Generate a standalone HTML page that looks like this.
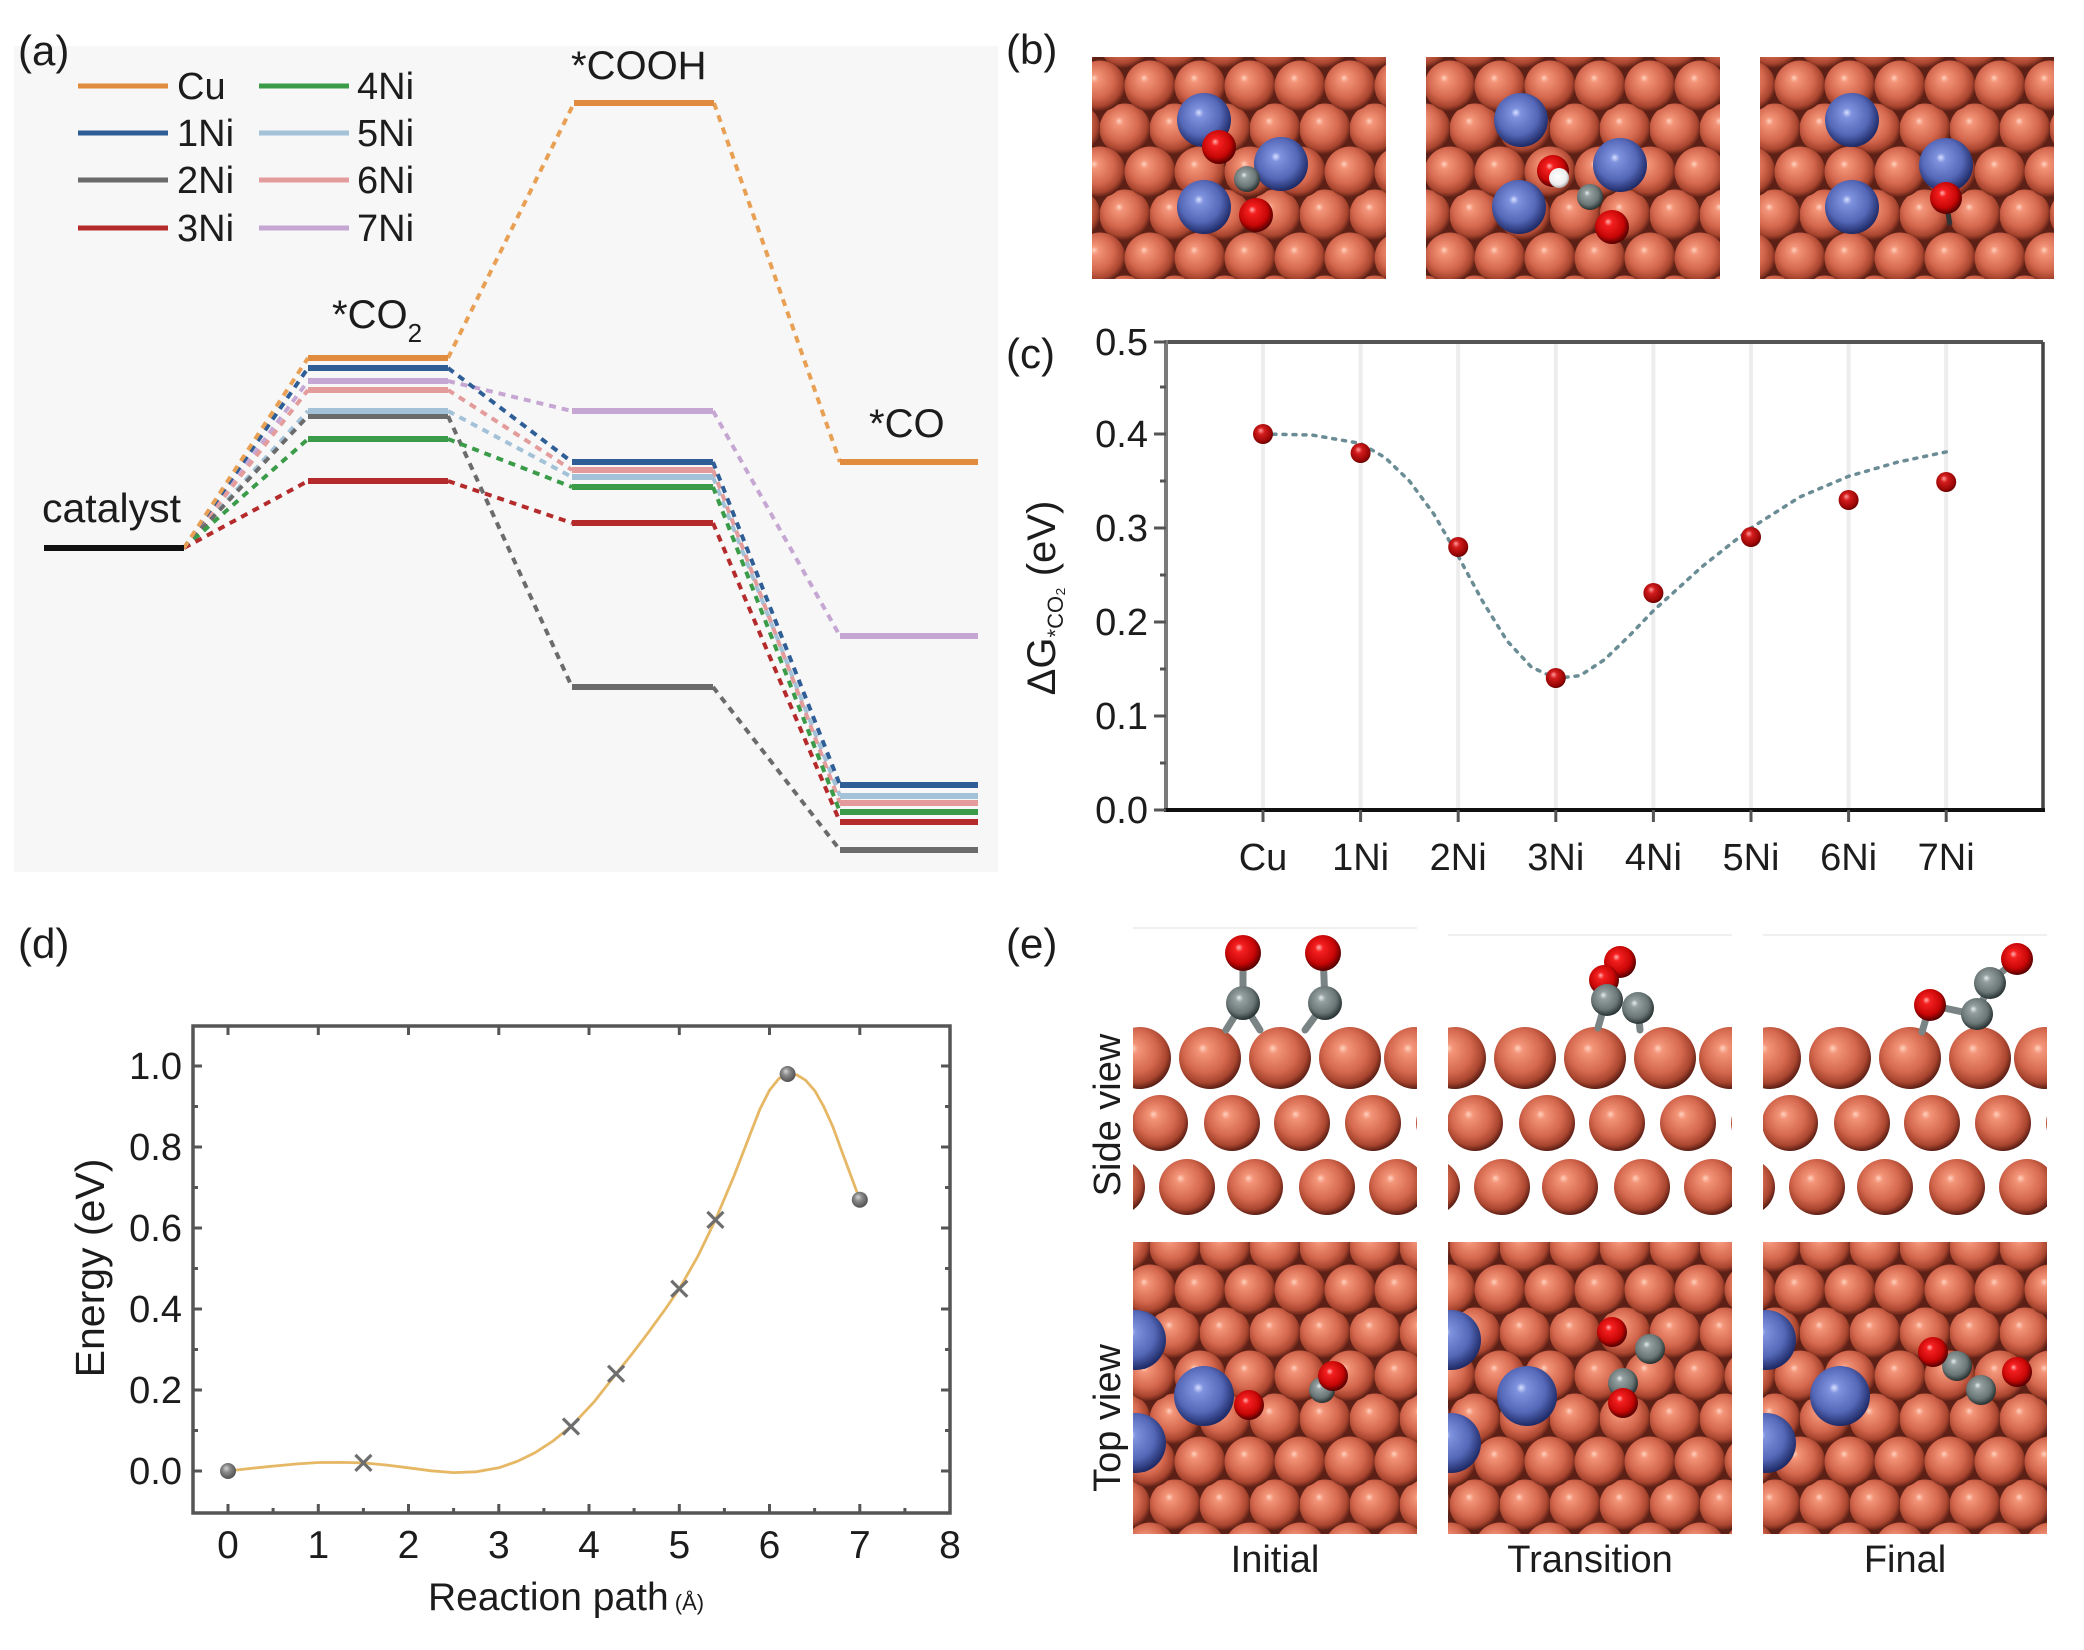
<!DOCTYPE html>
<html><head><meta charset="utf-8">
<style>
html,body{margin:0;padding:0;background:#fff}
svg{display:block}
text{font-family:"Liberation Sans",Arial,sans-serif;fill:#1c1c1c}
</style></head>
<body>
<svg width="2084" height="1650" viewBox="0 0 2084 1650" xmlns="http://www.w3.org/2000/svg">
<defs>
<radialGradient id="gCu" cx="0.45" cy="0.42" r="0.58" fx="0.38" fy="0.34">
<stop offset="0" stop-color="#ffd2bf"/><stop offset="0.14" stop-color="#f39478"/><stop offset="0.6" stop-color="#d4684e"/><stop offset="0.85" stop-color="#a9452f"/><stop offset="1" stop-color="#5a1e14"/></radialGradient>
<radialGradient id="gNi" cx="0.45" cy="0.42" r="0.58" fx="0.4" fy="0.36">
<stop offset="0" stop-color="#d8e0ff"/><stop offset="0.15" stop-color="#7f92de"/><stop offset="0.65" stop-color="#5568b8"/><stop offset="1" stop-color="#1e2a66"/></radialGradient>
<radialGradient id="gO" cx="0.45" cy="0.42" r="0.58" fx="0.38" fy="0.34">
<stop offset="0" stop-color="#ffb0b0"/><stop offset="0.2" stop-color="#f52020"/><stop offset="0.7" stop-color="#c80606"/><stop offset="1" stop-color="#520000"/></radialGradient>
<radialGradient id="gC" cx="0.45" cy="0.42" r="0.58" fx="0.38" fy="0.34">
<stop offset="0" stop-color="#e8eeee"/><stop offset="0.2" stop-color="#95a0a0"/><stop offset="0.7" stop-color="#6a7676"/><stop offset="1" stop-color="#263030"/></radialGradient>
<radialGradient id="gH" cx="0.45" cy="0.42" r="0.6">
<stop offset="0" stop-color="#ffffff"/><stop offset="0.7" stop-color="#eeeeee"/><stop offset="1" stop-color="#a0a0a0"/></radialGradient>
<radialGradient id="gR" cx="0.45" cy="0.42" r="0.6" fx="0.38" fy="0.32">
<stop offset="0" stop-color="#ff9c9c"/><stop offset="0.3" stop-color="#d41c1c"/><stop offset="0.8" stop-color="#9a0606"/><stop offset="1" stop-color="#600000"/></radialGradient>
<radialGradient id="gG" cx="0.45" cy="0.42" r="0.6" fx="0.38" fy="0.32">
<stop offset="0" stop-color="#d4d4d4"/><stop offset="0.4" stop-color="#8a8a8a"/><stop offset="1" stop-color="#4e4e4e"/></radialGradient>
<pattern id="lat" width="50" height="86" patternUnits="userSpaceOnUse">
<rect width="50" height="86" fill="#5c2016"/>
<circle cx="25" cy="43" r="25.5" fill="url(#gCu)"/>
<circle cx="0" cy="0" r="25.5" fill="url(#gCu)"/>
<circle cx="50" cy="0" r="25.5" fill="url(#gCu)"/>
<circle cx="0" cy="86" r="25.5" fill="url(#gCu)"/>
<circle cx="50" cy="86" r="25.5" fill="url(#gCu)"/>
</pattern>
<clipPath id="cs"><rect x="0" y="0" width="284" height="190"/></clipPath>
<g id="slab" clip-path="url(#cs)">
<circle cx="7" cy="33" r="31" fill="url(#gCu)"/><circle cx="77" cy="33" r="31" fill="url(#gCu)"/><circle cx="147" cy="33" r="31" fill="url(#gCu)"/><circle cx="217" cy="33" r="31" fill="url(#gCu)"/><circle cx="282" cy="33" r="31" fill="url(#gCu)"/>
<circle cx="27" cy="98" r="28" fill="url(#gCu)"/><circle cx="99" cy="98" r="28" fill="url(#gCu)"/><circle cx="169" cy="98" r="28" fill="url(#gCu)"/><circle cx="240" cy="98" r="28" fill="url(#gCu)"/><circle cx="311" cy="98" r="28" fill="url(#gCu)"/>
<circle cx="-16" cy="162" r="28" fill="url(#gCu)"/><circle cx="54" cy="162" r="28" fill="url(#gCu)"/><circle cx="122" cy="162" r="28" fill="url(#gCu)"/><circle cx="194" cy="162" r="28" fill="url(#gCu)"/><circle cx="264" cy="162" r="28" fill="url(#gCu)"/>
</g>
<clipPath id="cb1"><rect x="1092" y="57" width="294" height="222"/></clipPath>
<clipPath id="cb2"><rect x="1426" y="57" width="294" height="222"/></clipPath>
<clipPath id="cb3"><rect x="1760" y="57" width="294" height="222"/></clipPath>
<clipPath id="ct1"><rect x="1133" y="1242" width="284" height="292"/></clipPath>
<clipPath id="ct2"><rect x="1448" y="1242" width="284" height="292"/></clipPath>
<clipPath id="ct3"><rect x="1763" y="1242" width="284" height="292"/></clipPath>
</defs>

<!-- ================= Panel (a) ================= -->
<rect x="14" y="46" width="984" height="826" fill="#f7f7f7"/>
<text x="18" y="65" font-size="42">(a)</text>

<g stroke-width="5">
<line x1="78" y1="86" x2="168" y2="86" stroke="#e08b3d"/>
<line x1="78" y1="133" x2="168" y2="133" stroke="#2f5e96"/>
<line x1="78" y1="180" x2="168" y2="180" stroke="#6b6b6b"/>
<line x1="78" y1="228" x2="168" y2="228" stroke="#b52b2b"/>
<line x1="259" y1="86" x2="349" y2="86" stroke="#3a9b48"/>
<line x1="259" y1="133" x2="349" y2="133" stroke="#a3c2d8"/>
<line x1="259" y1="180" x2="349" y2="180" stroke="#e39b9b"/>
<line x1="259" y1="228" x2="349" y2="228" stroke="#c6a6d2"/>
</g>
<g font-size="38">
<text x="177" y="99">Cu</text>
<text x="177" y="146">1Ni</text>
<text x="177" y="193">2Ni</text>
<text x="177" y="241">3Ni</text>
<text x="357" y="99">4Ni</text>
<text x="357" y="146">5Ni</text>
<text x="357" y="193">6Ni</text>
<text x="357" y="241">7Ni</text>
</g>

<text x="42" y="522" font-size="41">catalyst</text>
<text x="332" y="328" font-size="40">*CO<tspan font-size="26" dy="14">2</tspan></text>
<text x="571" y="79" font-size="40">*COOH</text>
<text x="869" y="437" font-size="40">*CO</text>

<g fill="none" stroke-width="4" stroke-dasharray="7 6">
<g stroke="#c6a6d2"><path d="M184 548L308 381"/><path d="M448 381L572 411"/><path d="M713 411L840 636"/></g>
<g stroke="#a3c2d8"><path d="M184 548L308 411"/><path d="M448 411L572 477"/><path d="M713 477L840 796"/></g>
<g stroke="#e39b9b"><path d="M184 548L308 390"/><path d="M448 390L572 470"/><path d="M713 470L840 803"/></g>
<g stroke="#6b6b6b"><path d="M184 548L308 416"/><path d="M448 416L572 687"/><path d="M713 687L840 850"/></g>
<g stroke="#3a9b48"><path d="M184 548L308 439"/><path d="M448 439L572 487"/><path d="M713 487L840 812"/></g>
<g stroke="#b52b2b"><path d="M184 548L308 481"/><path d="M448 481L572 523"/><path d="M713 523L840 822"/></g>
<g stroke="#2f5e96"><path d="M184 548L308 368"/><path d="M448 368L572 462"/><path d="M713 462L840 785"/></g>
<g stroke="#e8a055"><path d="M184 548L308 358"/><path d="M448 358L574 103"/><path d="M714 103L840 462"/></g>
</g>

<g stroke-width="6">
<line x1="44" y1="548" x2="184" y2="548" stroke="#111"/>
<line x1="308" y1="416" x2="448" y2="416" stroke="#6b6b6b"/>
<line x1="308" y1="411" x2="448" y2="411" stroke="#a3c2d8"/>
<line x1="308" y1="390" x2="448" y2="390" stroke="#e39b9b"/>
<line x1="308" y1="381" x2="448" y2="381" stroke="#c6a6d2"/>
<line x1="308" y1="439" x2="448" y2="439" stroke="#3a9b48"/>
<line x1="308" y1="481" x2="448" y2="481" stroke="#b52b2b"/>
<line x1="308" y1="368" x2="448" y2="368" stroke="#2f5e96"/>
<line x1="308" y1="358" x2="448" y2="358" stroke="#e08b3d"/>
<line x1="574" y1="103" x2="714" y2="103" stroke="#e08b3d"/>
<line x1="572" y1="411" x2="713" y2="411" stroke="#c6a6d2"/>
<line x1="572" y1="477" x2="713" y2="477" stroke="#a3c2d8"/>
<line x1="572" y1="470" x2="713" y2="470" stroke="#e39b9b"/>
<line x1="572" y1="462" x2="713" y2="462" stroke="#2f5e96"/>
<line x1="572" y1="487" x2="713" y2="487" stroke="#3a9b48"/>
<line x1="572" y1="523" x2="713" y2="523" stroke="#b52b2b"/>
<line x1="572" y1="687" x2="713" y2="687" stroke="#6b6b6b"/>
<line x1="840" y1="462" x2="978" y2="462" stroke="#e08b3d"/>
<line x1="840" y1="636" x2="978" y2="636" stroke="#c6a6d2"/>
<line x1="840" y1="796" x2="978" y2="796" stroke="#a3c2d8"/>
<line x1="840" y1="803" x2="978" y2="803" stroke="#e39b9b"/>
<line x1="840" y1="785" x2="978" y2="785" stroke="#2f5e96"/>
<line x1="840" y1="812" x2="978" y2="812" stroke="#3a9b48"/>
<line x1="840" y1="822" x2="978" y2="822" stroke="#b52b2b"/>
<line x1="840" y1="850" x2="978" y2="850" stroke="#6b6b6b"/>
</g>

<!-- ================= Panel (b) ================= -->
<text x="1006" y="64" font-size="42">(b)</text>
<rect x="1092" y="57" width="294" height="222" fill="url(#lat)"/>
<rect x="1426" y="57" width="294" height="222" fill="url(#lat)"/>
<rect x="1760" y="57" width="294" height="222" fill="url(#lat)"/>
<g clip-path="url(#cb1)">
<circle cx="1204" cy="120" r="27" fill="url(#gNi)"/>
<circle cx="1281" cy="164" r="27" fill="url(#gNi)"/>
<circle cx="1204" cy="207" r="27" fill="url(#gNi)"/>
<circle cx="1219" cy="147" r="17" fill="url(#gO)"/>
<circle cx="1247" cy="179" r="13" fill="url(#gC)"/>
<circle cx="1256" cy="215" r="17" fill="url(#gO)"/>
</g>
<g clip-path="url(#cb2)">
<circle cx="1521" cy="120" r="27" fill="url(#gNi)"/>
<circle cx="1620" cy="165" r="27" fill="url(#gNi)"/>
<circle cx="1519" cy="207" r="27" fill="url(#gNi)"/>
<circle cx="1553" cy="171" r="16" fill="url(#gO)"/>
<circle cx="1559" cy="178" r="10" fill="url(#gH)"/>
<circle cx="1590" cy="197" r="13" fill="url(#gC)"/>
<circle cx="1612" cy="227" r="17" fill="url(#gO)"/>
</g>
<g clip-path="url(#cb3)">
<circle cx="1852" cy="120" r="27" fill="url(#gNi)"/>
<circle cx="1946" cy="165" r="27" fill="url(#gNi)"/>
<circle cx="1852" cy="207" r="27" fill="url(#gNi)"/>
<line x1="1946" y1="200" x2="1950" y2="225" stroke="#333" stroke-width="5"/>
<circle cx="1946" cy="198" r="16" fill="url(#gO)"/>
</g>

<!-- ================= Panel (c) ================= -->
<text x="1006" y="368" font-size="42">(c)</text>
<g stroke="#ededed" stroke-width="4">
<line x1="1263" y1="343" x2="1263" y2="808"/><line x1="1360.6" y1="343" x2="1360.6" y2="808"/>
<line x1="1458.2" y1="343" x2="1458.2" y2="808"/><line x1="1555.8" y1="343" x2="1555.8" y2="808"/>
<line x1="1653.4" y1="343" x2="1653.4" y2="808"/><line x1="1751" y1="343" x2="1751" y2="808"/>
<line x1="1848.6" y1="343" x2="1848.6" y2="808"/><line x1="1946.2" y1="343" x2="1946.2" y2="808"/>
</g>
<line x1="1166" y1="342" x2="2043" y2="342" stroke="#555" stroke-width="4"/>
<line x1="2043" y1="342" x2="2043" y2="810" stroke="#444" stroke-width="3.5"/>
<line x1="1166" y1="340" x2="1166" y2="812" stroke="#7a7a7a" stroke-width="4"/>
<line x1="1164" y1="810" x2="2045" y2="810" stroke="#111" stroke-width="4"/>
<g stroke="#555" stroke-width="3">
<line x1="1154" y1="810" x2="1166" y2="810"/><line x1="1154" y1="716" x2="1166" y2="716"/>
<line x1="1154" y1="622" x2="1166" y2="622"/><line x1="1154" y1="528" x2="1166" y2="528"/>
<line x1="1154" y1="434" x2="1166" y2="434"/><line x1="1154" y1="342" x2="1166" y2="342"/>
<line x1="1160" y1="763" x2="1166" y2="763"/><line x1="1160" y1="669" x2="1166" y2="669"/>
<line x1="1160" y1="575" x2="1166" y2="575"/><line x1="1160" y1="481" x2="1166" y2="481"/>
<line x1="1160" y1="387" x2="1166" y2="387"/>
<line x1="1263" y1="810" x2="1263" y2="822"/><line x1="1360.6" y1="810" x2="1360.6" y2="822"/>
<line x1="1458.2" y1="810" x2="1458.2" y2="822"/><line x1="1555.8" y1="810" x2="1555.8" y2="822"/>
<line x1="1653.4" y1="810" x2="1653.4" y2="822"/><line x1="1751" y1="810" x2="1751" y2="822"/>
<line x1="1848.6" y1="810" x2="1848.6" y2="822"/><line x1="1946.2" y1="810" x2="1946.2" y2="822"/>
</g>
<g font-size="38" text-anchor="end">
<text x="1148" y="823">0.0</text><text x="1148" y="729">0.1</text><text x="1148" y="635">0.2</text>
<text x="1148" y="541">0.3</text><text x="1148" y="447">0.4</text><text x="1148" y="355">0.5</text>
</g>
<g font-size="38" text-anchor="middle">
<text x="1263" y="870">Cu</text><text x="1360.6" y="870">1Ni</text><text x="1458.2" y="870">2Ni</text>
<text x="1555.8" y="870">3Ni</text><text x="1653.4" y="870">4Ni</text><text x="1751" y="870">5Ni</text>
<text x="1848.6" y="870">6Ni</text><text x="1946.2" y="870">7Ni</text>
</g>
<text transform="translate(1055,598) rotate(-90)" text-anchor="middle" font-size="40">ΔG<tspan font-size="22" dy="8">*CO₂</tspan><tspan dy="-8"> (eV)</tspan></text>
<polyline fill="none" stroke="#6a8c94" stroke-width="3.5" stroke-dasharray="3 7" stroke-linecap="round"
points="1263,434 1311.8,435 1360.6,443.4 1385,457.5 1409.4,481 1433.8,514 1458.2,556.2 1482.6,601.3 1507,640.8 1531.4,667.1 1555.8,678.4 1580.2,675.6 1604.6,659.6 1629,636.1 1653.4,610.7 1702.2,566.5 1751,528 1799.8,497 1848.6,476.3 1897.4,462.2 1946.2,451.9"/>
<g>
<circle cx="1263" cy="434" r="10" fill="url(#gR)"/>
<circle cx="1360.6" cy="453" r="10" fill="url(#gR)"/>
<circle cx="1458.2" cy="547" r="10" fill="url(#gR)"/>
<circle cx="1555.8" cy="678" r="10" fill="url(#gR)"/>
<circle cx="1653.4" cy="593" r="10" fill="url(#gR)"/>
<circle cx="1751" cy="537" r="10" fill="url(#gR)"/>
<circle cx="1848.6" cy="500" r="10" fill="url(#gR)"/>
<circle cx="1946.2" cy="482" r="10" fill="url(#gR)"/>
</g>

<!-- ================= Panel (d) ================= -->
<text x="18" y="958" font-size="42">(d)</text>
<rect x="193" y="1026" width="757" height="487" fill="none" stroke="#555" stroke-width="3.5"/>
<g stroke="#555" stroke-width="3">
<line x1="228" y1="1513" x2="228" y2="1504"/><line x1="318.3" y1="1513" x2="318.3" y2="1504"/><line x1="408.5" y1="1513" x2="408.5" y2="1504"/><line x1="498.8" y1="1513" x2="498.8" y2="1504"/><line x1="589" y1="1513" x2="589" y2="1504"/><line x1="679.3" y1="1513" x2="679.3" y2="1504"/><line x1="769.5" y1="1513" x2="769.5" y2="1504"/><line x1="859.8" y1="1513" x2="859.8" y2="1504"/>
<line x1="228" y1="1026" x2="228" y2="1035"/><line x1="318.3" y1="1026" x2="318.3" y2="1035"/><line x1="408.5" y1="1026" x2="408.5" y2="1035"/><line x1="498.8" y1="1026" x2="498.8" y2="1035"/><line x1="589" y1="1026" x2="589" y2="1035"/><line x1="679.3" y1="1026" x2="679.3" y2="1035"/><line x1="769.5" y1="1026" x2="769.5" y2="1035"/><line x1="859.8" y1="1026" x2="859.8" y2="1035"/>
<line x1="273.1" y1="1513" x2="273.1" y2="1508"/><line x1="363.4" y1="1513" x2="363.4" y2="1508"/><line x1="453.6" y1="1513" x2="453.6" y2="1508"/><line x1="543.9" y1="1513" x2="543.9" y2="1508"/><line x1="634.1" y1="1513" x2="634.1" y2="1508"/><line x1="724.4" y1="1513" x2="724.4" y2="1508"/><line x1="814.6" y1="1513" x2="814.6" y2="1508"/><line x1="904.9" y1="1513" x2="904.9" y2="1508"/>
<line x1="193" y1="1471" x2="202" y2="1471"/><line x1="193" y1="1390" x2="202" y2="1390"/><line x1="193" y1="1309" x2="202" y2="1309"/><line x1="193" y1="1228" x2="202" y2="1228"/><line x1="193" y1="1147" x2="202" y2="1147"/><line x1="193" y1="1066" x2="202" y2="1066"/>
<line x1="950" y1="1471" x2="941" y2="1471"/><line x1="950" y1="1390" x2="941" y2="1390"/><line x1="950" y1="1309" x2="941" y2="1309"/><line x1="950" y1="1228" x2="941" y2="1228"/><line x1="950" y1="1147" x2="941" y2="1147"/><line x1="950" y1="1066" x2="941" y2="1066"/>
<line x1="193" y1="1430.5" x2="198" y2="1430.5"/><line x1="193" y1="1349.5" x2="198" y2="1349.5"/><line x1="193" y1="1268.5" x2="198" y2="1268.5"/><line x1="193" y1="1187.5" x2="198" y2="1187.5"/><line x1="193" y1="1106.5" x2="198" y2="1106.5"/>
<line x1="950" y1="1430.5" x2="945" y2="1430.5"/><line x1="950" y1="1349.5" x2="945" y2="1349.5"/><line x1="950" y1="1268.5" x2="945" y2="1268.5"/><line x1="950" y1="1187.5" x2="945" y2="1187.5"/><line x1="950" y1="1106.5" x2="945" y2="1106.5"/>
</g>
<g font-size="38" text-anchor="end">
<text x="182" y="1484">0.0</text><text x="182" y="1403">0.2</text><text x="182" y="1322">0.4</text>
<text x="182" y="1241">0.6</text><text x="182" y="1160">0.8</text><text x="182" y="1079">1.0</text>
</g>
<g font-size="39" text-anchor="middle">
<text x="228" y="1558">0</text><text x="318.3" y="1558">1</text><text x="408.5" y="1558">2</text>
<text x="498.8" y="1558">3</text><text x="589" y="1558">4</text><text x="679.3" y="1558">5</text>
<text x="769.5" y="1558">6</text><text x="859.8" y="1558">7</text><text x="950" y="1558">8</text>
</g>
<text x="428" y="1610" font-size="39">Reaction path<tspan font-size="22"> (Å)</tspan></text>
<text transform="translate(104,1268) rotate(-90)" text-anchor="middle" font-size="41">Energy (eV)</text>
<polyline fill="none" stroke="#e6b865" stroke-width="2.8"
points="228,1471 250,1468.5 273.1,1466.1 296,1464 318.3,1462.5 341,1462.4 363.4,1462.9 386,1465 408.5,1467.8 431,1470.8 453.6,1472.6 476,1471.8 498.8,1467.8 517,1461.5 534.9,1452.8 553,1441 571,1426.5 594,1402 616.1,1373.8 632,1354 647.7,1333.3 664,1311 679.3,1288.8 698,1256 715.4,1219.9 734,1176 751.5,1130.8 760,1109 769.5,1090.3 779,1078.5 787.6,1074.1 797,1075 805.6,1080.2 815,1091 823.7,1106.5 833,1127 841.7,1151 851,1176 859.8,1199.7"/>
<g stroke="#6e6e6e" stroke-width="3.2">
<path d="M355.4 1454.9L371.4 1470.9M371.4 1454.9L355.4 1470.9"/>
<path d="M563 1418.5L579 1434.5M579 1418.5L563 1434.5"/>
<path d="M608.1 1365.8L624.1 1381.8M624.1 1365.8L608.1 1381.8"/>
<path d="M671.3 1280.8L687.3 1296.8M687.3 1280.8L671.3 1296.8"/>
<path d="M707.4 1211.9L723.4 1227.9M723.4 1211.9L707.4 1227.9"/>
</g>
<circle cx="228" cy="1471" r="8" fill="url(#gG)"/>
<circle cx="787.6" cy="1074" r="8" fill="url(#gG)"/>
<circle cx="859.8" cy="1199.7" r="8" fill="url(#gG)"/>

<!-- ================= Panel (e) ================= -->
<text x="1006" y="958" font-size="42">(e)</text>
<text transform="translate(1120,1115) rotate(-90)" text-anchor="middle" font-size="38">Side view</text>
<text transform="translate(1120,1418) rotate(-90)" text-anchor="middle" font-size="38">Top view</text>
<g font-size="38" text-anchor="middle">
<text x="1275" y="1572">Initial</text>
<text x="1590" y="1572">Transition</text>
<text x="1905" y="1572">Final</text>
</g>
<g stroke="#f0f0f0" stroke-width="2" fill="none">
<line x1="1133" y1="928" x2="1417" y2="928"/><line x1="1448" y1="935" x2="1732" y2="935"/><line x1="1763" y1="935" x2="2047" y2="935"/>
</g>
<use href="#slab" x="1133" y="1025"/>
<use href="#slab" x="1448" y="1025"/>
<use href="#slab" x="1763" y="1025"/>
<g stroke="#7a8484" stroke-width="7" stroke-linecap="round">
<line x1="1243" y1="953" x2="1243" y2="1003"/><line x1="1243" y1="1003" x2="1226" y2="1030"/><line x1="1243" y1="1003" x2="1260" y2="1030"/>
<line x1="1323" y1="953" x2="1325" y2="1003"/><line x1="1325" y1="1003" x2="1305" y2="1030"/>
</g>
<circle cx="1243" cy="953" r="18" fill="url(#gO)"/>
<circle cx="1243" cy="1003" r="17" fill="url(#gC)"/>
<circle cx="1323" cy="953" r="18" fill="url(#gO)"/>
<circle cx="1325" cy="1003" r="17" fill="url(#gC)"/>
<g stroke="#7a8484" stroke-width="7" stroke-linecap="round">
<line x1="1606" y1="1000" x2="1598" y2="1028"/><line x1="1638" y1="1008" x2="1640" y2="1030"/>
</g>
<circle cx="1620" cy="962" r="16" fill="url(#gO)"/>
<circle cx="1604" cy="980" r="15" fill="url(#gO)"/>
<circle cx="1607" cy="1000" r="16" fill="url(#gC)"/>
<circle cx="1638" cy="1008" r="16" fill="url(#gC)"/>
<g stroke="#7a8484" stroke-width="7" stroke-linecap="round">
<line x1="2017" y1="959" x2="1990" y2="982"/><line x1="1990" y1="982" x2="1977" y2="1015"/><line x1="1977" y1="1015" x2="1930" y2="1005"/><line x1="1930" y1="1005" x2="1922" y2="1032"/>
</g>
<circle cx="2017" cy="959" r="16" fill="url(#gO)"/>
<circle cx="1990" cy="983" r="16" fill="url(#gC)"/>
<circle cx="1977" cy="1014" r="16" fill="url(#gC)"/>
<circle cx="1930" cy="1005" r="16" fill="url(#gO)"/>

<rect x="1133" y="1242" width="284" height="292" fill="url(#lat)"/>
<rect x="1448" y="1242" width="284" height="292" fill="url(#lat)"/>
<rect x="1763" y="1242" width="284" height="292" fill="url(#lat)"/>
<g clip-path="url(#ct1)">
<circle cx="1136" cy="1340" r="30" fill="url(#gNi)"/><circle cx="1136" cy="1443" r="30" fill="url(#gNi)"/><circle cx="1204" cy="1396" r="30" fill="url(#gNi)"/>
<circle cx="1322" cy="1390" r="13" fill="url(#gC)"/>
<circle cx="1333" cy="1376" r="15" fill="url(#gO)"/>
<circle cx="1249" cy="1405" r="15" fill="url(#gO)"/>
</g>
<g clip-path="url(#ct2)">
<circle cx="1451" cy="1340" r="30" fill="url(#gNi)"/><circle cx="1451" cy="1443" r="30" fill="url(#gNi)"/><circle cx="1527" cy="1396" r="30" fill="url(#gNi)"/>
<circle cx="1650" cy="1349" r="15" fill="url(#gC)"/>
<circle cx="1612" cy="1332" r="15" fill="url(#gO)"/>
<circle cx="1623" cy="1383" r="15" fill="url(#gC)"/>
<circle cx="1623" cy="1403" r="15" fill="url(#gO)"/>
</g>
<g clip-path="url(#ct3)">
<circle cx="1766" cy="1340" r="30" fill="url(#gNi)"/><circle cx="1766" cy="1443" r="30" fill="url(#gNi)"/><circle cx="1840" cy="1396" r="30" fill="url(#gNi)"/>
<circle cx="1957" cy="1366" r="15" fill="url(#gC)"/>
<circle cx="1981" cy="1390" r="15" fill="url(#gC)"/>
<circle cx="1933" cy="1352" r="15" fill="url(#gO)"/>
<circle cx="2017" cy="1372" r="15" fill="url(#gO)"/>
</g>
</svg>
</body></html>
